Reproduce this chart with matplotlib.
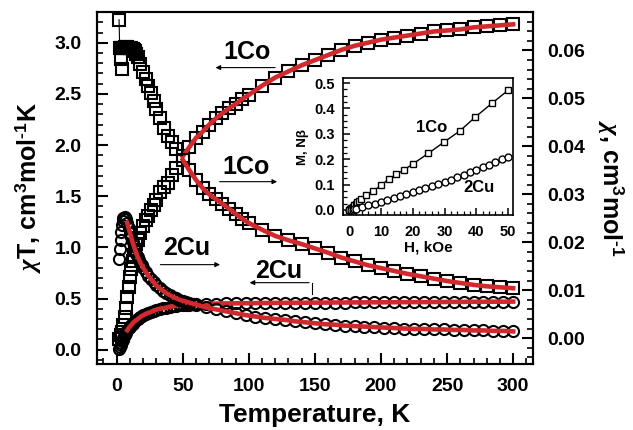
import matplotlib
matplotlib.use('Agg')
import matplotlib.pyplot as plt
from matplotlib.ticker import MultipleLocator

plt.rcParams['font.family'] = 'Liberation Sans'
plt.rcParams['font.weight'] = 'bold'
plt.rcParams['mathtext.fontset'] = 'custom'
plt.rcParams['mathtext.rm'] = 'Liberation Sans:bold'
plt.rcParams['mathtext.bf'] = 'Liberation Sans:bold'
plt.rcParams['mathtext.it'] = 'Liberation Serif:italic'

RED = '#d02a2e'

# ---- 1Co: chiT (left axis) ----
T_co_xt = [2, 3, 4, 5, 6, 7, 8, 9, 10, 11, 12, 13, 14, 15, 16, 18, 20, 22, 24, 26,
           28, 30, 33, 36, 39, 42, 45, 50, 55, 60, 65, 70, 75, 80, 85, 90, 95, 100,
           110, 120, 130, 140, 150, 160, 170, 180, 190, 200, 210, 220, 230, 240,
           250, 260, 270, 280, 290, 300]
co_xt = [0.10, 0.14, 0.17, 0.24, 0.32, 0.41, 0.51, 0.61, 0.71, 0.79, 0.87, 0.93,
         0.97, 1.03, 1.07, 1.14, 1.21, 1.27, 1.31, 1.37, 1.41, 1.46, 1.54, 1.59,
         1.63, 1.71, 1.78, 1.89, 1.98, 2.07, 2.13, 2.20, 2.26, 2.31, 2.36, 2.40,
         2.45, 2.49, 2.58, 2.66, 2.72, 2.78, 2.83, 2.88, 2.93, 2.97, 3.00, 3.03,
         3.05, 3.07, 3.09, 3.11, 3.12, 3.13, 3.15, 3.16, 3.17, 3.18]

# ---- 1Co: chi (right axis) ----
T_co_x = [1.8, 2.3, 3.5, 4.3, 3, 4, 5, 6, 7, 8, 9, 10, 11, 12, 13, 14, 15, 16, 18,
          20, 22, 24, 26, 28, 30, 33, 36, 39, 42, 45, 50, 55, 60, 65, 70, 75, 80,
          85, 90, 95, 100, 110, 120, 130, 140, 150, 160, 170, 180, 190, 200, 210,
          220, 230, 240, 250, 260, 270, 280, 290, 300]
co_x = [0.0664, 0.0605, 0.0583, 0.0562, 0.0605, 0.0606, 0.0606, 0.0607, 0.0607,
        0.0607, 0.0606, 0.0605, 0.0604, 0.0603, 0.0601, 0.0598, 0.0593, 0.0586,
        0.0571, 0.0555, 0.0540, 0.0526, 0.0512, 0.0495, 0.0477, 0.0458, 0.0438,
        0.0421, 0.0408, 0.0395, 0.0372, 0.0350, 0.0330, 0.0313, 0.0300, 0.0290,
        0.0280, 0.0270, 0.0259, 0.0249, 0.0240, 0.0226, 0.0213, 0.0204, 0.0196,
        0.0187, 0.0178, 0.0168, 0.0160, 0.0152, 0.0146, 0.0140, 0.0134, 0.0129,
        0.0124, 0.0119, 0.0115, 0.0111, 0.0108, 0.0106, 0.0104]

# ---- 2Cu (both axes share T grid) ----
T_cu = [2, 2.5, 3, 3.5, 4, 4.5, 5, 6, 7, 8, 9, 10, 11, 12, 13, 14, 15, 16, 17, 18,
        19, 20, 22, 24, 26, 28, 30, 32.5, 35, 37.5, 40, 42.5, 45, 47.5, 50, 52.5,
        55, 57.5, 60, 67.5, 75, 82.5, 90, 97.5, 105, 112.5, 120, 127.5, 135,
        142.5, 150, 157.5, 165, 172.5, 180, 187.5, 195, 202.5, 210, 217.5, 225,
        232.5, 240, 247.5, 255, 262.5, 270, 277.5, 285, 292.5, 300]
cu_xt = [0.01, 0.03, 0.05, 0.065, 0.08, 0.095, 0.11, 0.14, 0.165, 0.19, 0.21, 0.225,
         0.24, 0.255, 0.27, 0.28, 0.29, 0.30, 0.31, 0.32, 0.33, 0.335, 0.35, 0.36,
         0.37, 0.38, 0.39, 0.40, 0.405, 0.41, 0.42, 0.425, 0.43, 0.433, 0.436,
         0.438, 0.44, 0.442, 0.445, 0.448, 0.450, 0.452, 0.453, 0.454, 0.455,
         0.456, 0.457, 0.458, 0.458, 0.459, 0.460, 0.460, 0.461, 0.461, 0.462,
         0.462, 0.463, 0.463, 0.464, 0.464, 0.465, 0.465, 0.466, 0.466, 0.467,
         0.467, 0.468, 0.468, 0.469, 0.469, 0.470]
cu_x = [0.0165, 0.0185, 0.0205, 0.0222, 0.0236, 0.0245, 0.0250, 0.0252, 0.0248,
        0.0240, 0.0230, 0.0220, 0.0210, 0.0200, 0.0192, 0.0184, 0.0176, 0.0169,
        0.0163, 0.0157, 0.0152, 0.0147, 0.0138, 0.0130, 0.0123, 0.0116, 0.0110,
        0.0104, 0.0099, 0.0094, 0.0090, 0.0086, 0.0083, 0.0080, 0.0078, 0.0076,
        0.0074, 0.0072, 0.0070, 0.0064, 0.0060, 0.0056, 0.0052, 0.0048, 0.0045,
        0.0042, 0.0040, 0.0038, 0.0035, 0.0033, 0.0031, 0.0029, 0.0028, 0.0026,
        0.0025, 0.0024, 0.0023, 0.0022, 0.0021, 0.0020, 0.0019, 0.0019, 0.0018,
        0.0018, 0.0017, 0.0017, 0.0016, 0.0016, 0.0015, 0.0015, 0.0014]

# ---- inset M(H) ----
H_co = [0, 0.25, 0.5, 0.75, 1, 1.5, 2, 2.5, 3, 3.7, 5.3, 7.6, 10, 12.4, 14.8, 17.1,
        20, 24.9, 29.9, 34.9, 39.6, 44.9, 50.1]
M_co = [0, 0.003, 0.006, 0.009, 0.012, 0.018, 0.024, 0.030, 0.036, 0.042, 0.059,
        0.075, 0.097, 0.121, 0.140, 0.157, 0.181, 0.223, 0.268, 0.312, 0.365,
        0.420, 0.472]
H_cu = [0, 0.5, 1, 1.5, 2, 4, 6, 8, 10, 12, 14, 16, 18, 20, 22, 24, 26, 28, 30, 32,
        34, 36, 38, 40, 42, 44, 46, 48, 50]
M_cu = [0, 0.001, 0.001, 0.002, 0.002, 0.010, 0.018, 0.025, 0.032, 0.040, 0.048,
        0.056, 0.063, 0.071, 0.078, 0.086, 0.093, 0.101, 0.110, 0.119, 0.128,
        0.138, 0.148, 0.158, 0.169, 0.179, 0.189, 0.200, 0.210]

FIT_CO = 50     # fit lines drawn from this temperature up
FIT_CU = 8

fig = plt.figure(figsize=(6.33, 4.30), dpi=100)
ax = fig.add_axes([0.153, 0.1535, 0.689, 0.8185])
ax2 = ax.twinx()

sq = dict(marker='s', ms=8, mfc='none', mec='black', mew=1.5, ls='none')
ci = dict(marker='o', ms=8, mfc='none', mec='black', mew=1.5, ls='none')

ax.plot(T_co_xt, co_xt, **sq)
ax.plot(T_cu, cu_xt, **ci)
ax2.plot(T_co_x, co_x, **sq)
ax2.plot(T_co_x[:2], co_x[:2], 'k-', lw=0.8)
ax2.plot(T_cu, cu_x, **ci)

# fits
i0 = T_co_xt.index(FIT_CO)
ax.plot(T_co_xt[i0:], co_xt[i0:], color=RED, lw=3.3, zorder=5)
i1 = T_co_x.index(FIT_CO)
ax2.plot(T_co_x[i1:], co_x[i1:], color=RED, lw=3.3, zorder=5)
i2 = T_cu.index(FIT_CU)
ax.plot(T_cu[i2:], cu_xt[i2:], color=RED, lw=3.3, zorder=5)
ax2.plot(T_cu[i2:], cu_x[i2:], color=RED, lw=3.3, zorder=5)

ax.set_xlim(-15, 315)
ax.set_ylim(-0.14, 3.30)
ax2.set_ylim(-0.0054, 0.068)

ax.xaxis.set_major_locator(MultipleLocator(50))
ax.xaxis.set_minor_locator(MultipleLocator(10))
ax.yaxis.set_major_locator(MultipleLocator(0.5))
ax.yaxis.set_minor_locator(MultipleLocator(0.1))
ax2.yaxis.set_major_locator(MultipleLocator(0.01))
ax2.yaxis.set_minor_locator(MultipleLocator(0.002))
ax.yaxis.set_major_formatter(plt.FormatStrFormatter('%.1f'))
ax2.yaxis.set_major_formatter(plt.FormatStrFormatter('%.2f'))

ax.tick_params(axis='x', which='both', direction='in', top=False, labelsize=14, pad=10)
ax.tick_params(axis='y', which='both', direction='in', right=False, labelsize=14, pad=11)
ax2.tick_params(axis='y', which='both', direction='in', labelsize=14, pad=10)
for a in (ax, ax2):
    a.tick_params(which='major', length=8, width=1.5)
    a.tick_params(which='minor', length=4.5, width=1.2)
    for s in a.spines.values():
        s.set_linewidth(1.5)

ax.set_xlabel('Temperature, K', fontsize=19, fontweight='bold', labelpad=6)
ax.set_ylabel(r'$\chi$T, cm$^{3}$mol$^{\text{-}1}$K', fontsize=18, fontweight='bold',
              labelpad=8)
ax2.set_ylabel(r'$\chi$, cm$^{3}$mol$^{\text{-}1}$', fontsize=18, fontweight='bold',
               rotation=270, labelpad=30)

# labels with arrows
arw = dict(arrowstyle='-|>', color='black', lw=0.8, mutation_scale=7)
ax.text(98.5, 2.91, '1Co', fontsize=18, ha='center', va='center')
ax.annotate('', xy=(72.7, 2.757), xytext=(122, 2.757), arrowprops=arw)
ax.text(97.7, 1.79, '1Co', fontsize=18, ha='center', va='center')
ax.annotate('', xy=(123.5, 1.642), xytext=(75.8, 1.642), arrowprops=arw)
ax.text(53, 0.99, '2Cu', fontsize=18, ha='center', va='center')
ax.annotate('', xy=(80.3, 0.831), xytext=(31, 0.831), arrowprops=arw)
ax.text(122.7, 0.77, '2Cu', fontsize=18, ha='center', va='center')
ax.annotate('', xy=(98.5, 0.655), xytext=(147.7, 0.655), arrowprops=arw)
ax.plot([147.7, 147.7], [0.655, 0.54], 'k-', lw=0.8)

# inset
axi = fig.add_axes([0.5419, 0.5, 0.2686, 0.3186])
axi.plot(H_co, M_co, 'k-', lw=1.0, marker='s', ms=5, mfc='white', mec='black', mew=1.0)
axi.plot(H_cu, M_cu, ls='none', marker='o', ms=5, mfc='white', mec='black', mew=1.0)
axi.set_xlim(-2, 51.6)
axi.set_ylim(-0.02, 0.52)
axi.xaxis.set_major_locator(MultipleLocator(10))
axi.xaxis.set_minor_locator(MultipleLocator(2))
axi.yaxis.set_major_locator(MultipleLocator(0.1))
axi.yaxis.set_minor_locator(MultipleLocator(0.025))
axi.yaxis.set_major_formatter(plt.FormatStrFormatter('%.1f'))
axi.tick_params(which='both', direction='in', labelsize=10.5, top=False, right=False)
axi.tick_params(axis='x', pad=7)
axi.tick_params(axis='y', pad=6)
axi.tick_params(which='major', length=5, width=1.1)
axi.tick_params(which='minor', length=3, width=0.9)
for s in axi.spines.values():
    s.set_linewidth(1.2)
axi.set_xlabel('H, kOe', fontsize=11, fontweight='bold', labelpad=1)
axi.set_ylabel('M, Nβ', fontsize=9.5, fontweight='bold', labelpad=4)
axi.text(25.8, 0.323, '1Co', fontsize=12, ha='center', va='center')
axi.text(40.9, 0.087, '2Cu', fontsize=12, ha='center', va='center')

fig.savefig('out.png', dpi=100)
